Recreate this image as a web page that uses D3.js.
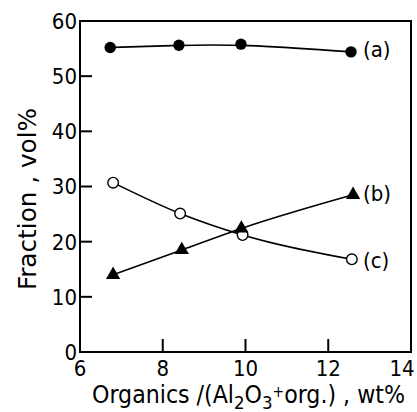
<!DOCTYPE html>
<html>
<head>
<meta charset="utf-8">
<script src="https://cdn.jsdelivr.net/npm/d3@7"></script>
<style>
  body { margin: 0; background: #fff; }
  text { font-family: "DejaVu Sans Condensed", "DejaVu Sans", sans-serif; fill: #000; }
</style>
</head>
<body>
<svg id="chart" width="417" height="412"></svg>
<script>
// values
let xTicks = [6, 8, 10, 12, 14];
let yTicks = [0, 10, 20, 30, 40, 50, 60];
let seriesA = [[6.73, 55.2], [8.39, 55.6], [9.89, 55.8], [12.55, 54.4]];
let seriesB = [[6.8, 14.0], [8.46, 18.5], [9.9, 22.4], [12.6, 28.5]];
let seriesC = [[6.8, 30.7], [8.42, 25.1], [9.93, 21.2], [12.57, 16.8]];
let labels = [['(a)', 55.0], ['(b)', 28.8], ['(c)', 16.6]];

let margin = {left: 80, top: 21, right: 6, bottom: 60};
let width = 417, height = 412;

let svg = d3.select('#chart');
let x = d3.scaleLinear().domain([6, 14]).range([margin.left, width - margin.right]);
let y = d3.scaleLinear().domain([0, 60]).range([height - margin.bottom, margin.top]);

// frame
svg.append('rect')
    .attr('x', x(6)).attr('y', y(60))
    .attr('width', x(14) - x(6)).attr('height', y(0) - y(60))
    .attr('fill', 'none').attr('stroke', '#000').attr('stroke-width', 2);

// inward ticks
svg.append('g').selectAll('line').data(yTicks.filter(d => d > 0 && d < 60)).join('line')
    .attr('x1', x(6)).attr('x2', x(6) + 12)
    .attr('y1', d => y(d)).attr('y2', d => y(d))
    .attr('stroke', '#000').attr('stroke-width', 2);
svg.append('g').selectAll('line').data(xTicks.filter(d => d > 6 && d < 14)).join('line')
    .attr('x1', d => x(d)).attr('x2', d => x(d))
    .attr('y1', y(0)).attr('y2', y(0) - 13)
    .attr('stroke', '#000').attr('stroke-width', 2);

// tick labels
svg.append('g').selectAll('text').data(yTicks).join('text')
    .attr('x', x(6) - 3).attr('y', d => y(d))
    .attr('dy', '0.36em')
    .attr('text-anchor', 'end')
    .style('font-size', '22px')
    .text(d => d);
svg.append('g').selectAll('text').data(xTicks).join('text')
    .attr('x', d => d == 14 ? x(d) - 9 : x(d)).attr('y', y(0) + 24)
    .attr('text-anchor', 'middle')
    .style('font-size', '22px')
    .text(d => d);

// curves
let smooth = d3.line().x(d => x(d[0])).y(d => y(d[1])).curve(d3.curveBasis);
let line = d3.line().x(d => x(d[0])).y(d => y(d[1])).curve(d3.curveMonotoneX);
svg.append('path').attr('d', smooth(seriesA))
    .attr('fill', 'none').attr('stroke', '#000').attr('stroke-width', 1.6);
[seriesB, seriesC].forEach(s => {
    svg.append('path').attr('d', line(s))
        .attr('fill', 'none').attr('stroke', '#000').attr('stroke-width', 1.6);
});

// markers
svg.append('g').selectAll('circle').data(seriesA).join('circle')
    .attr('cx', d => x(d[0])).attr('cy', d => y(d[1])).attr('r', 5.7)
    .attr('fill', '#000');
svg.append('g').selectAll('circle').data(seriesC).join('circle')
    .attr('cx', d => x(d[0])).attr('cy', d => y(d[1])).attr('r', 5.3)
    .attr('fill', '#fff').attr('stroke', '#000').attr('stroke-width', 1.4);
svg.append('g').selectAll('path').data(seriesB).join('path')
    .attr('d', d3.symbol(d3.symbolTriangle, 88))
    .attr('transform', d => `translate(${x(d[0])},${y(d[1])})`)
    .attr('fill', '#000');

// series labels
svg.append('g').selectAll('text').data(labels).join('text')
    .attr('x', x(12.55) + 12).attr('y', d => y(d[1]))
    .attr('dy', '0.36em')
    .style('font-size', '22px')
    .text(d => d[0]);

// axis titles
svg.append('text')
    .attr('transform', `translate(36, 199) rotate(-90)`)
    .attr('text-anchor', 'middle')
    .attr('textLength', 182)
    .attr('lengthAdjust', 'spacingAndGlyphs')
    .style('font-size', '24px')
    .text('Fraction , vol%');

let xt = svg.append('text')
    .attr('x', 92).attr('y', 403)
    .attr('textLength', 313)
    .attr('lengthAdjust', 'spacingAndGlyphs')
    .style('font-size', '24px');
xt.append('tspan').text('Organics /(Al');
xt.append('tspan').attr('dy', 6).style('font-size', '18px').text('2');
xt.append('tspan').attr('dy', -6).text('O');
xt.append('tspan').attr('dy', 6).style('font-size', '18px').text('3');
xt.append('tspan').attr('dy', -12).style('font-size', '15px').text('+');
xt.append('tspan').attr('dy', 6).text('org.) , wt%');
</script>
</body>
</html>
